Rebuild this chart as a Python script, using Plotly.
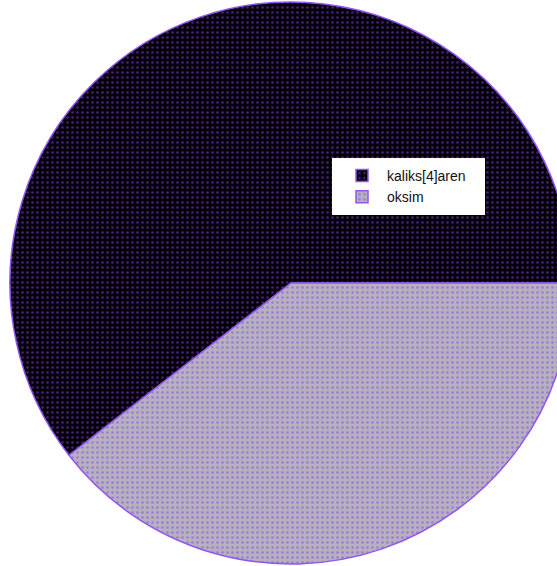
import plotly.graph_objects as go

labels = ["kaliks[4]aren", "oksim"]
values = [60.5, 39.5]
fill_colors = ["#050008", "#b6b0bf"]

W, H = 582, 566
cx, cy, r = 291, 283, 281

fig = go.Figure(go.Pie(
    labels=labels,
    values=values,
    sort=False,
    direction="clockwise",
    rotation=-127.8,
    textinfo="none",
    hoverinfo="label+percent",
    marker=dict(
        colors=fill_colors,
        line=dict(color="#9156f0", width=1.5),
        pattern=dict(shape=".", fgcolor="#7f45e8", size=5, solidity=0.22, fillmode="overlay"),
    ),
    domain=dict(x=[(cx - r) / W, (cx + r) / W], y=[1 - (cy + r) / H, 1 - (cy - r) / H]),
))

# white legend box backdrop
fig.add_shape(
    type="rect", xref="paper", yref="paper", layer="above",
    x0=332 / W, x1=485 / W, y0=1 - 215 / H, y1=1 - 158 / H,
    fillcolor="white", line=dict(width=0),
)

fig.update_layout(
    width=W, height=H,
    margin=dict(l=0, r=0, t=0, b=0),
    paper_bgcolor="white",
    showlegend=True,
    legend=dict(
        x=337 / W, y=1 - 160 / H, xanchor="left", yanchor="top",
        bgcolor="rgba(0,0,0,0)", borderwidth=0,
        font=dict(family="Liberation Sans, Arial", size=14, color="#111111"),
        itemwidth=40,
        tracegroupgap=0,
    ),
)

fig.write_html(
    "out.html",
    config={"displayModeBar": False},
    post_script="document.body.style.margin='0';document.body.style.overflow='hidden';document.documentElement.style.overflow='hidden';",
)
